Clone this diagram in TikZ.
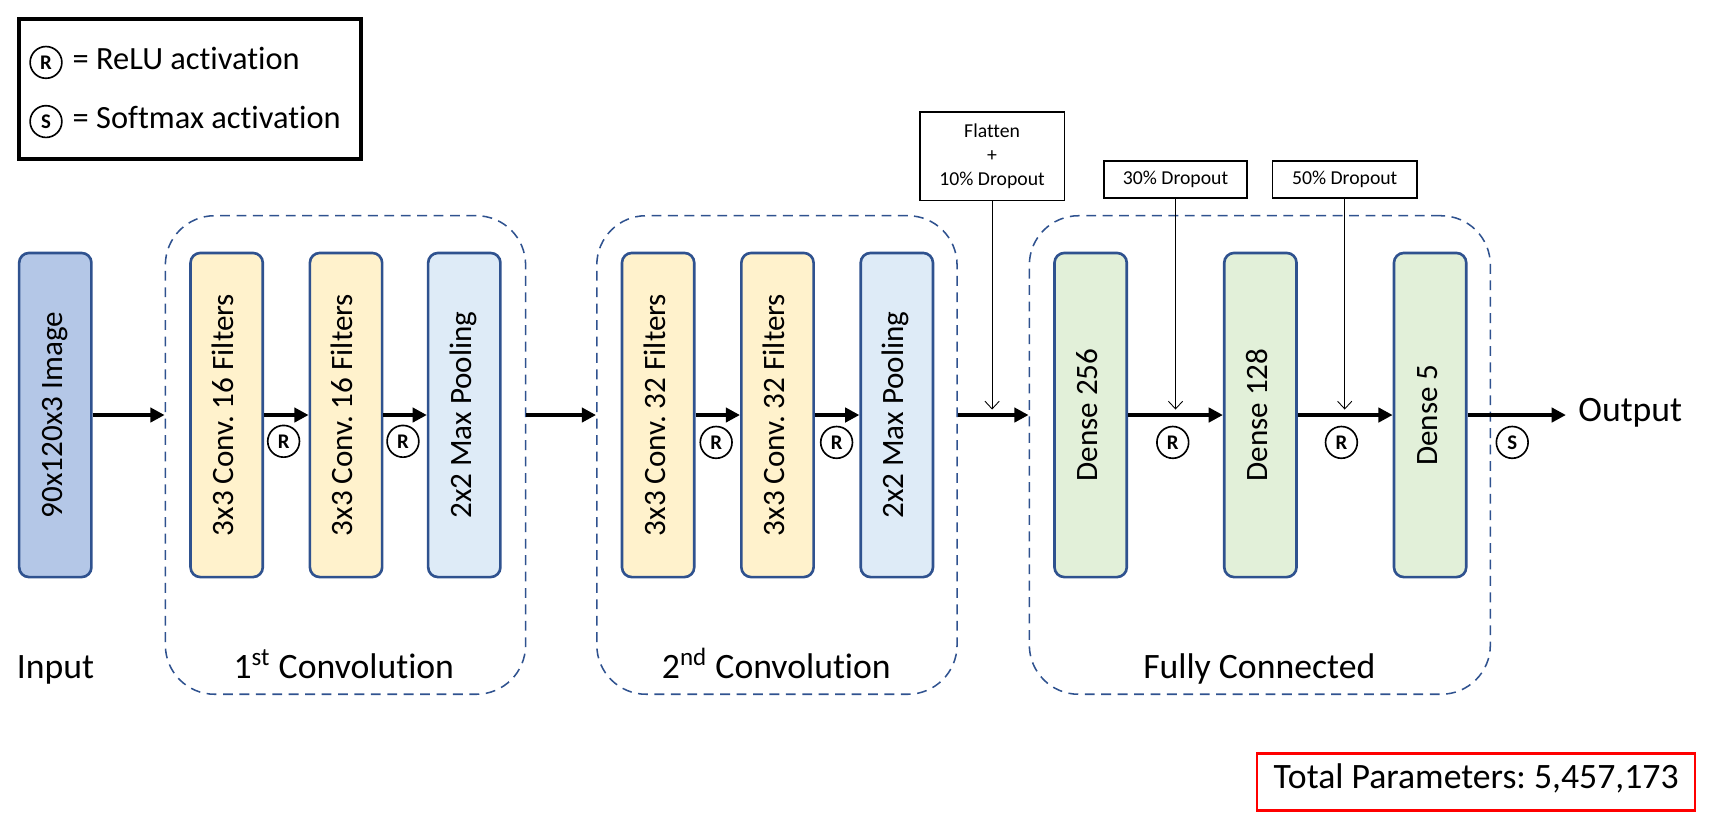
\documentclass[tikz,border=0pt]{standalone}
\usepackage{fontspec}
\setmainfont{Carlito}[Ligatures=NoCommon]
\usetikzlibrary{arrows.meta}
\definecolor{bord}{HTML}{2F528F}
\definecolor{inpfill}{HTML}{B4C7E7}
\definecolor{convfill}{HTML}{FFF2CC}
\definecolor{poolfill}{HTML}{DEEBF7}
\definecolor{densefill}{HTML}{E2F0D9}
\begin{document}
\frenchspacing
\begin{tikzpicture}[x=0.5pt,y=-0.5pt,
  layer/.style={draw=bord, line width=1.2pt, rounded corners=4.5pt, minimum width=33pt, minimum height=148pt, inner sep=0pt},
  ltext/.style={rotate=90, inner sep=0pt, text height=0.63em, text depth=0pt, font=\fontsize{14.2}{17}\selectfont},
  grp/.style={draw=bord, line width=0.7pt, dash pattern=on 4.5pt off 3pt, rounded corners=22.5pt, minimum height=218.5pt, inner sep=0pt},
  big/.style={font=\fontsize{16.3}{19}\selectfont, inner sep=0pt},
  act/.style={circle, draw, line width=0.75pt, minimum size=14.5pt, inner sep=0pt, text height=0.63em, text depth=0pt, font=\bfseries\fontsize{9.5}{10}\selectfont},
  thickarr/.style={line width=2.1pt, -{Triangle[length=6.5pt,width=6.5pt]}},
  thinarr/.style={line width=0.4pt, -{Straight Barb[length=3.5pt,width=6.5pt]}},
  dbox/.style={draw, line width=0.75pt, inner sep=0pt, align=center, font=\fontsize{9}{11}\selectfont}
]
\useasboundingbox (0,0) rectangle (1568,760.7);

% legend
\node[draw, line width=1.75pt, minimum width=156.5pt, minimum height=64pt, inner sep=0pt] (leg) at (173.5,81) {};
\node[act] (lr) at (42,57) {R};
\node[anchor=west, inner sep=0pt, text height=0.63em, text depth=0pt, font=\fontsize{14.8}{17}\selectfont] (lrt) at (66,57) {= ReLU activation};
\node[act] (ls) at (42,111) {S};
\node[anchor=west, inner sep=0pt, text height=0.63em, text depth=0pt, font=\fontsize{14.8}{17}\selectfont] (lst) at (66,111) {= Softmax activation};

% groups
\node[grp, minimum width=164.5pt] (g1) at (315.5,415.5) {};
\node[grp, minimum width=164.5pt] (g2) at (709.5,415.5) {};
\node[grp, minimum width=210.5pt] (g3) at (1150.5,415.5) {};

% layers
\node[layer, fill=inpfill] (in) at (50.5,379) {};
\node[ltext] (int) at (in.center) {90x120x3 Image};
\node[layer, fill=convfill] (c1) at (207,379) {};
\node[ltext] (c1t) at (c1.center) {3x3 Conv. 16 Filters};
\node[layer, fill=convfill] (c2) at (316,379) {};
\node[ltext] (c2t) at (c2.center) {3x3 Conv. 16 Filters};
\node[layer, fill=poolfill] (p1) at (424,379) {};
\node[ltext] (p1t) at (p1.center) {2x2 Max Pooling};
\node[layer, fill=convfill] (c3) at (601,379) {};
\node[ltext] (c3t) at (c3.center) {3x3 Conv. 32 Filters};
\node[layer, fill=convfill] (c4) at (710,379) {};
\node[ltext] (c4t) at (c4.center) {3x3 Conv. 32 Filters};
\node[layer, fill=poolfill] (p2) at (819,379) {};
\node[ltext] (p2t) at (p2.center) {2x2 Max Pooling};
\node[layer, fill=densefill] (d1) at (996,379) {};
\node[ltext] (d1t) at (d1.center) {Dense 256};
\node[layer, fill=densefill] (d2) at (1151,379) {};
\node[ltext] (d2t) at (d2.center) {Dense 128};
\node[layer, fill=densefill] (d3) at (1306,379) {};
\node[ltext] (d3t) at (d3.center) {Dense 5};

% labels
\node[big, anchor=base west] (inl) at (15,620) {Input};
\node[big, anchor=base] (g1l) at (314,620) {1\textsuperscript{st} Convolution};
\node[big, anchor=base] (g2l) at (709,620) {2\textsuperscript{nd} Convolution};
\node[big, anchor=base] (g3l) at (1150,620) {Fully Connected};
\node[big, anchor=west, inner xsep=5.5pt, text height=0.63em, text depth=0pt] (out) at (1430,379) {Output};

% thick arrows
\draw[thickarr] (in.east) -- (in.east -| g1.west);
\draw[thickarr] (c1.east) -- (c2.west);
\draw[thickarr] (c2.east) -- (p1.west);
\draw[thickarr] (p1.east -| g1.east) -- (p1.east -| g2.west);
\draw[thickarr] (c3.east) -- (c4.west);
\draw[thickarr] (c4.east) -- (p2.west);
\draw[thickarr] (p2.east -| g2.east) -- (p2.east -| g3.west);
\draw[thickarr] (d1.east) -- (d2.west);
\draw[thickarr] (d2.east) -- (d3.west);
\draw[thickarr] (d3.east) -- (out.west);

% activations
\node[act] (a1) at (259,403) {R};
\node[act] (a2) at (368,403) {R};
\node[act] (a3) at (654,404) {R};
\node[act] (a4) at (764,404) {R};
\node[act] (a5) at (1071,404) {R};
\node[act] (a6) at (1225,404) {R};
\node[act] (a7) at (1381,404) {S};

% dropout boxes
\node[dbox, minimum width=66pt, minimum height=40.5pt] (fl) at (906,142.5) {Flatten\\+\\10\% Dropout};
\node[dbox, minimum width=65.5pt, minimum height=17pt] (dr3) at (1073.5,164) {30\% Dropout};
\node[dbox, minimum width=66pt, minimum height=17pt] (dr5) at (1228,164) {50\% Dropout};
\coordinate (flt) at (906,374);
\coordinate (dr3t) at (1073.5,374);
\coordinate (dr5t) at (1228,374);
\draw[thinarr] (fl.south) -- (flt);
\draw[thinarr] (dr3.south) -- (dr3t);
\draw[thinarr] (dr5.south) -- (dr5t);

% total parameters
\node[draw=red, line width=1.1pt, minimum width=200pt, minimum height=26pt, inner sep=0pt, text height=0.63em, text depth=0pt, font=\fontsize{16.3}{19}\selectfont] (tp) at (1348,714) {Total Parameters: 5,457,173};
\end{tikzpicture}
\end{document}
